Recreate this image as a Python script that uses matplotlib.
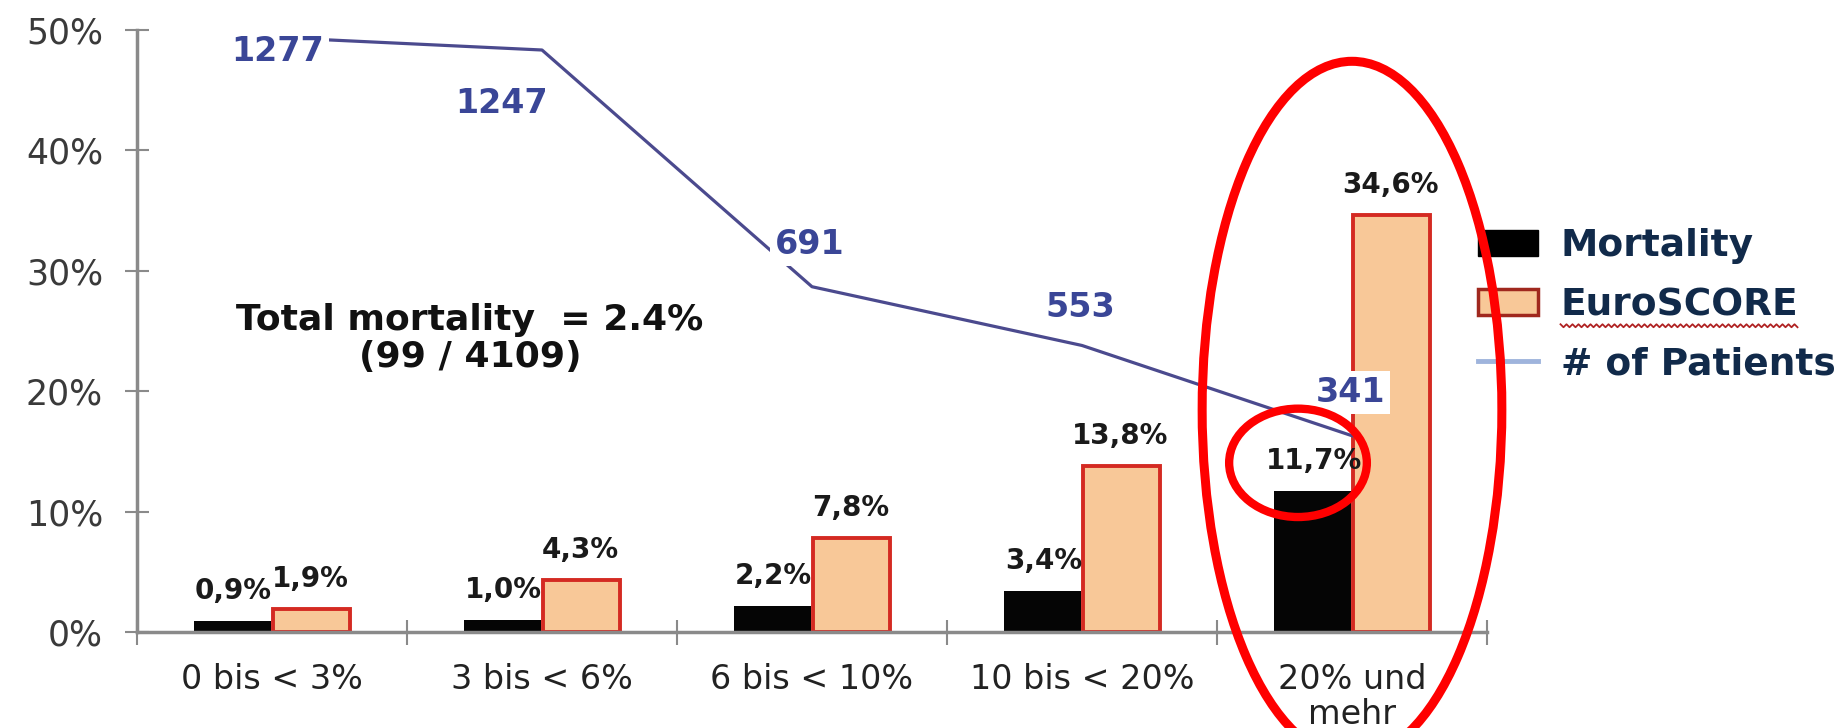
import numpy as np
import matplotlib
matplotlib.use("Agg")
import matplotlib.pyplot as plt
from matplotlib.patches import Patch, Ellipse
from matplotlib.lines import Line2D
from matplotlib.transforms import IdentityTransform

plt.rcParams['font.family'] = ['DejaVu Sans']

categories = ['0 bis < 3%', '3 bis < 6%', '6 bis < 10%', '10 bis < 20%', '20% und\nmehr']
mortality = [0.9, 1.0, 2.2, 3.4, 11.7]
euroscore = [1.9, 4.3, 7.8, 13.8, 34.6]
patients = [1277, 1247, 691, 553, 341]
# where each patient count sits relative to its point (pixels)
patient_label_offsets = [(6, -14), (-40, -53), (-2, 42), (-2, 38), (-2, 43)]

navy = '#3a4697'
line_col = '#4b4a8e'

fig = plt.figure(figsize=(18.44, 7.28), dpi=100)
ax = fig.add_axes([137 / 1844, 96 / 728, 1350 / 1844, 602 / 728])

x = np.arange(len(categories))
w = 0.285
ax.bar(x - w / 2 - 0.004, mortality, w, color='#050505', zorder=2)
ax.bar(x + w / 2 + 0.004, euroscore, w, color='#f8c898', edgecolor='#d42a22',
       linewidth=2.8, zorder=2)

def pct(v):
    return f"{v:.1f}".replace('.', ',') + '%'

for xi, v in zip(x - w / 2, mortality):
    ax.annotate(pct(v), (xi, v), xytext=(0, 30), textcoords='offset pixels',
                ha='center', va='center', fontsize=20, fontweight='bold', color='#1a1a1a')
for xi, v in zip(x + w / 2, euroscore):
    ax.annotate(pct(v), (xi, v), xytext=(0, 30), textcoords='offset pixels',
                ha='center', va='center', fontsize=20, fontweight='bold', color='#1a1a1a')

ax.set_xlim(-0.5, len(categories) - 0.5)
ax.set_ylim(0, 50)
ax.set_yticks([0, 10, 20, 30, 40, 50])
ax.set_yticklabels([f"{t}%" for t in range(0, 51, 10)])
ax.set_xticks(x)
ax.set_xticklabels(categories, linespacing=1.1)
ax.set_xticks(np.arange(-0.5, len(categories)), minor=True)

for s in ['top', 'right']:
    ax.spines[s].set_visible(False)
for s in ['left', 'bottom']:
    ax.spines[s].set_color('#8a8a8a')
    ax.spines[s].set_linewidth(2.5)

ax.tick_params(axis='y', direction='inout', length=17, width=1.5, color='#8a8a8a',
               labelsize=25, labelcolor='#3a3a3a', pad=16)
ax.tick_params(axis='x', which='major', length=0, labelsize=24, labelcolor='#222222', pad=22)
ax.tick_params(axis='x', which='minor', direction='inout', length=18, width=1.5, color='#8a8a8a')

ax.text(0.733, 24.4, "Total mortality  = 2.4%\n(99 / 4109)", ha='center', va='center',
        fontsize=26, fontweight='bold', color='#111111', linespacing=1.1)

# patient counts on a second scale
ax2 = ax.twinx()
ax2.set_ylim(-120, 1294)
ax2.plot(x, patients, color=line_col, lw=2.3, zorder=1)
ax2.axis('off')
for xi, n, (dx, dy) in zip(x, patients, patient_label_offsets):
    ax2.annotate(str(n), (xi, n), xytext=(dx, dy), textcoords='offset pixels',
                 ha='center', va='center', fontsize=24, fontweight='bold', color=navy,
                 bbox=dict(boxstyle='square,pad=0.15', fc='white', ec='none'), zorder=3)

handles = [Patch(facecolor='black', edgecolor='black'),
           Patch(facecolor='#f8c898', edgecolor='#a0281e', linewidth=2.5),
           Line2D([], [], color='#9fb4dc', lw=3.5)]
leg = fig.legend(handles, ['Mortality', 'EuroSCORE', '# of Patients'],
                 loc='upper left', bbox_to_anchor=(1478 / 1844, (728 - 228) / 728),
                 frameon=False, fontsize=27, borderpad=0, borderaxespad=0,
                 handlelength=1.6, handleheight=0.7, handletextpad=0.6, labelspacing=0.62)
for t in leg.get_texts():
    t.set_color('#112a4a')
    t.set_fontweight('bold')

# red highlight rings
fig.add_artist(Ellipse((4.0, 18.45), 1.11, 57.9, transform=ax.transData, fill=False,
                       edgecolor='#ff0000', linewidth=6.5, zorder=10))
fig.add_artist(Ellipse((3.8, 14.05), 0.51, 9.0, transform=ax.transData, fill=False,
                       edgecolor='#ff0000', linewidth=6, zorder=10))

# spell-check squiggle under EuroSCORE
fig.canvas.draw()
bb = leg.get_texts()[1].get_window_extent()
xs = np.arange(bb.x0, bb.x1, 3.0)
ys = bb.y0 - 1 + np.where(np.arange(len(xs)) % 2 == 0, 0, -3)
fig.add_artist(Line2D(xs, ys, transform=IdentityTransform(), color='#b02222', lw=1.3, zorder=11))

fig.savefig('out.png', dpi=100, facecolor='white')
